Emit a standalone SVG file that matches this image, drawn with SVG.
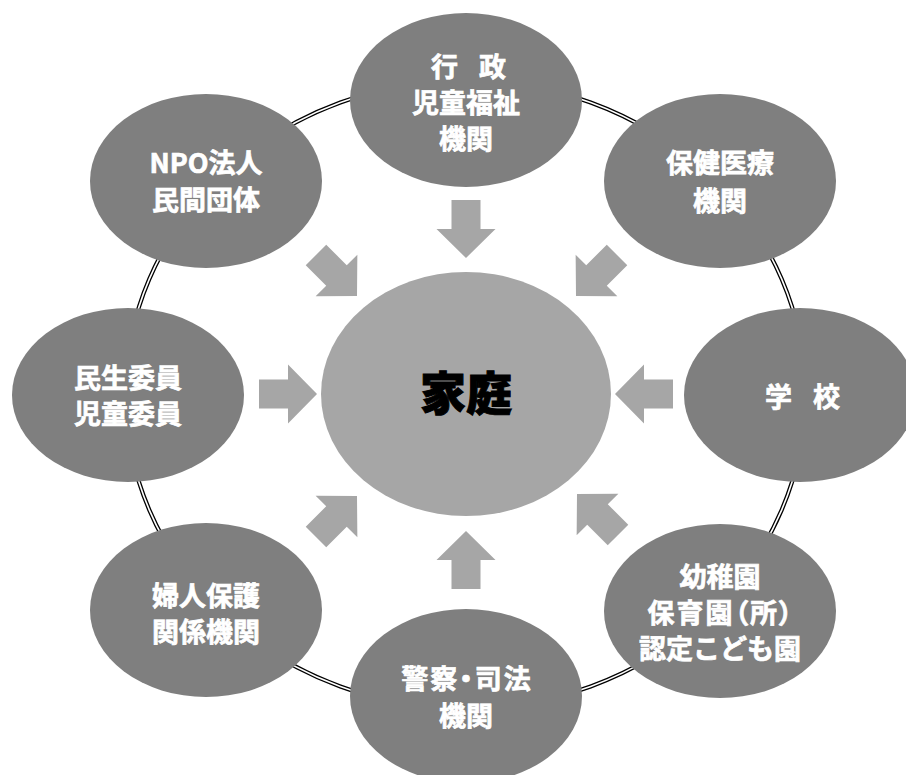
<svg xmlns="http://www.w3.org/2000/svg" width="906" height="775" viewBox="0 0 906 775">
<defs>
<style>
.node{fill:#7f7f7f}
.hub{fill:#a6a6a6}
.lbl{font-family:"Noto Sans CJK JP","Noto Sans",sans-serif;font-weight:700;font-size:27px;fill:#ffffff;stroke:#ffffff;stroke-width:0.7px;text-anchor:middle}
.sp{letter-spacing:-3px}
.prop{font-feature-settings:"palt" 1;letter-spacing:2px}
.hubl{font-family:"Noto Sans CJK JP","Noto Sans",sans-serif;font-weight:900;font-size:46px;fill:#000000;stroke:#000000;stroke-width:1px;text-anchor:middle}
.arrow{fill:#a6a6a6}
</style>
<polygon id="blk" points="-58,-14.5 -29,-14.5 -29,-29.5 0,0 -29,29.5 -29,14.5 -58,14.5"/>
</defs>
<rect width="906" height="775" fill="#ffffff"/>
<g id="ring">
<ellipse cx="465.5" cy="394.5" rx="340" ry="314" fill="none" stroke="#000000" stroke-width="4.2"/>
<ellipse cx="465.5" cy="394.5" rx="340" ry="314" fill="none" stroke="#ffffff" stroke-width="1.6"/>
</g>
<g id="connectors" class="arrow">
<use href="#blk" transform="translate(466,258) rotate(90)"/>
<use href="#blk" transform="translate(466,531) rotate(-90)"/>
<use href="#blk" transform="translate(317,394) rotate(0)"/>
<use href="#blk" transform="translate(615,394) rotate(180)"/>
<use href="#blk" transform="translate(357,296) rotate(45)"/>
<use href="#blk" transform="translate(576,296) rotate(135)"/>
<use href="#blk" transform="translate(357,496) rotate(-45)"/>
<use href="#blk" transform="translate(577,494) rotate(-135)"/>
</g>
<g id="family">
<ellipse class="hub" cx="466" cy="394" rx="145" ry="122"/>
<text class="hubl" x="466" y="410">家庭</text>
</g>
<g id="gyosei">
<ellipse class="node" cx="466" cy="100" rx="116" ry="87"/>
<text class="lbl sp" x="467" y="77">行　政</text>
<text class="lbl" x="466" y="113">児童福祉</text>
<text class="lbl" x="466" y="149">機関</text>
</g>
<g id="hoken">
<ellipse class="node" cx="720" cy="181" rx="116" ry="87"/>
<text class="lbl" x="720" y="173">保健医療</text>
<text class="lbl" x="720" y="211">機関</text>
</g>
<g id="gakko">
<ellipse class="node" cx="800" cy="395" rx="116" ry="87"/>
<text class="lbl sp" x="801" y="407">学　校</text>
</g>
<g id="yochien">
<ellipse class="node" cx="720" cy="611" rx="116" ry="87"/>
<text class="lbl" x="720" y="587">幼稚園</text>
<text class="lbl prop" x="721" y="623">保育園（所）</text>
<text class="lbl" x="720" y="659">認定こども園</text>
</g>
<g id="keisatsu">
<ellipse class="node" cx="466" cy="696" rx="116" ry="87"/>
<text class="lbl prop" x="467" y="689">警察・司法</text>
<text class="lbl" x="466" y="726">機関</text>
</g>
<g id="fujin">
<ellipse class="node" cx="206" cy="610" rx="116" ry="87"/>
<text class="lbl" x="206" y="606">婦人保護</text>
<text class="lbl" x="206" y="642">関係機関</text>
</g>
<g id="minsei">
<ellipse class="node" cx="128" cy="395" rx="116" ry="87"/>
<text class="lbl" x="128" y="388">民生委員</text>
<text class="lbl" x="128" y="424">児童委員</text>
</g>
<g id="npo">
<ellipse class="node" cx="206" cy="181" rx="116" ry="87"/>
<text class="lbl" x="206" y="173">NPO法人</text>
<text class="lbl" x="206" y="210">民間団体</text>
</g>
</svg>
